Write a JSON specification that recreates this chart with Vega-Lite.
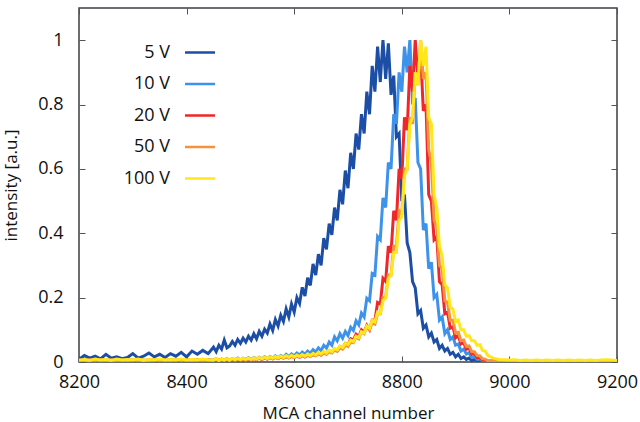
{
"$schema":"https://vega.github.io/schema/vega-lite/v6.json",
"width":538,"height":354,
"autosize":{"type":"none"},
"padding":{"left":79,"top":8,"right":23,"bottom":60},
"background":"white",
"config":{
 "view":{"stroke":"#3a3f44","strokeWidth":1.5},
 "font":"Open Sans",
 "axis":{"domain":false,"grid":false,"labelFlush":false,"labelOverlap":false,"tickColor":"#555","tickSize":-6,"tickWidth":1,"labelFont":"Open Sans","labelFontSize":18,"labelColor":"#111","titleFont":"Open Sans","titleFontSize":17,"titleFontWeight":"normal","titleColor":"#111"},
 "legend":{"orient":"none","legendX":104.5,"legendY":28,"symbolType":"stroke","symbolSize":900,"symbolStrokeWidth":2.5,"labelAlign":"right","labelOffset":-46.5,"labelFont":"Open Sans","labelFontSize":18,"labelColor":"#111","rowPadding":5.5,"padding":0}
},
"data":{"values":[
{"x":8200,"a":0.008,"b":0.004,"c":0.003,"d":0.005,"e":0.006},
{"x":8210,"a":0.02,"b":0.006,"c":0.005,"d":0.004,"e":0.008},
{"x":8220,"a":0.012,"b":0.003,"c":0.006,"d":0.007,"e":0.005},
{"x":8230,"a":0.018,"b":0.005,"c":0.004,"d":0.005,"e":0.009},
{"x":8240,"a":0.01,"b":0.004,"c":0.007,"d":0.006,"e":0.006},
{"x":8250,"a":0.024,"b":0.006,"c":0.004,"d":0.005,"e":0.008},
{"x":8260,"a":0.012,"b":0.003,"c":0.005,"d":0.007,"e":0.005},
{"x":8270,"a":0.016,"b":0.005,"c":0.006,"d":0.004,"e":0.009},
{"x":8280,"a":0.01,"b":0.004,"c":0.003,"d":0.006,"e":0.006},
{"x":8290,"a":0.014,"b":0.006,"c":0.006,"d":0.005,"e":0.008},
{"x":8300,"a":0.026,"b":0.004,"c":0.004,"d":0.007,"e":0.006},
{"x":8310,"a":0.012,"b":0.005,"c":0.007,"d":0.005,"e":0.009},
{"x":8320,"a":0.018,"b":0.003,"c":0.004,"d":0.006,"e":0.005},
{"x":8330,"a":0.028,"b":0.006,"c":0.006,"d":0.004,"e":0.008},
{"x":8340,"a":0.016,"b":0.004,"c":0.005,"d":0.007,"e":0.006},
{"x":8350,"a":0.024,"b":0.005,"c":0.007,"d":0.005,"e":0.009},
{"x":8360,"a":0.014,"b":0.004,"c":0.004,"d":0.006,"e":0.006},
{"x":8370,"a":0.026,"b":0.006,"c":0.006,"d":0.005,"e":0.008},
{"x":8380,"a":0.018,"b":0.004,"c":0.005,"d":0.007,"e":0.006},
{"x":8390,"a":0.03,"b":0.005,"c":0.004,"d":0.005,"e":0.009},
{"x":8400,"a":0.016,"b":0.004,"c":0.006,"d":0.006,"e":0.006},
{"x":8410,"a":0.034,"b":0.006,"c":0.005,"d":0.005,"e":0.008},
{"x":8420,"a":0.024,"b":0.004,"c":0.007,"d":0.007,"e":0.006},
{"x":8430,"a":0.036,"b":0.005,"c":0.004,"d":0.005,"e":0.009},
{"x":8440,"a":0.026,"b":0.006,"c":0.006,"d":0.006,"e":0.007},
{"x":8450,"a":0.046,"b":0.006,"c":0.004,"d":0.005,"e":0.006},
{"x":8455,"a":0.032,"b":0.01,"c":0.008,"d":0.009,"e":0.01},
{"x":8460,"a":0.052,"b":0.004,"c":0.005,"d":0.004,"e":0.005},
{"x":8465,"a":0.04,"b":0.009,"c":0.009,"d":0.008,"e":0.009},
{"x":8470,"a":0.068,"b":0.006,"c":0.004,"d":0.006,"e":0.006},
{"x":8475,"a":0.044,"b":0.011,"c":0.008,"d":0.009,"e":0.01},
{"x":8480,"a":0.05,"b":0.005,"c":0.006,"d":0.005,"e":0.006},
{"x":8485,"a":0.064,"b":0.01,"c":0.01,"d":0.01,"e":0.011},
{"x":8490,"a":0.052,"b":0.007,"c":0.005,"d":0.006,"e":0.007},
{"x":8495,"a":0.07,"b":0.012,"c":0.009,"d":0.009,"e":0.011},
{"x":8500,"a":0.058,"b":0.006,"c":0.006,"d":0.007,"e":0.007},
{"x":8505,"a":0.074,"b":0.011,"c":0.011,"d":0.01,"e":0.012},
{"x":8510,"a":0.062,"b":0.008,"c":0.007,"d":0.006,"e":0.008},
{"x":8515,"a":0.08,"b":0.013,"c":0.01,"d":0.011,"e":0.012},
{"x":8520,"a":0.068,"b":0.008,"c":0.006,"d":0.007,"e":0.008},
{"x":8525,"a":0.088,"b":0.014,"c":0.011,"d":0.012,"e":0.013},
{"x":8530,"a":0.072,"b":0.009,"c":0.008,"d":0.008,"e":0.009},
{"x":8535,"a":0.095,"b":0.015,"c":0.012,"d":0.012,"e":0.014},
{"x":8540,"a":0.08,"b":0.01,"c":0.008,"d":0.009,"e":0.01},
{"x":8545,"a":0.102,"b":0.016,"c":0.013,"d":0.013,"e":0.015},
{"x":8550,"a":0.09,"b":0.01,"c":0.009,"d":0.009,"e":0.011},
{"x":8555,"a":0.118,"b":0.017,"c":0.014,"d":0.014,"e":0.016},
{"x":8560,"a":0.098,"b":0.012,"c":0.01,"d":0.01,"e":0.012},
{"x":8565,"a":0.132,"b":0.019,"c":0.015,"d":0.015,"e":0.017},
{"x":8570,"a":0.112,"b":0.013,"c":0.011,"d":0.011,"e":0.013},
{"x":8575,"a":0.145,"b":0.02,"c":0.016,"d":0.016,"e":0.018},
{"x":8580,"a":0.126,"b":0.015,"c":0.012,"d":0.012,"e":0.014},
{"x":8585,"a":0.165,"b":0.024,"c":0.017,"d":0.017,"e":0.02},
{"x":8590,"a":0.14,"b":0.017,"c":0.013,"d":0.013,"e":0.015},
{"x":8595,"a":0.18,"b":0.025,"c":0.018,"d":0.018,"e":0.021},
{"x":8600,"a":0.155,"b":0.019,"c":0.014,"d":0.014,"e":0.016},
{"x":8605,"a":0.2,"b":0.028,"c":0.019,"d":0.019,"e":0.022},
{"x":8610,"a":0.182,"b":0.021,"c":0.015,"d":0.015,"e":0.017},
{"x":8615,"a":0.232,"b":0.031,"c":0.021,"d":0.02,"e":0.023},
{"x":8620,"a":0.205,"b":0.024,"c":0.016,"d":0.016,"e":0.018},
{"x":8625,"a":0.262,"b":0.034,"c":0.022,"d":0.021,"e":0.025},
{"x":8630,"a":0.238,"b":0.027,"c":0.018,"d":0.017,"e":0.02},
{"x":8635,"a":0.305,"b":0.038,"c":0.024,"d":0.023,"e":0.027},
{"x":8640,"a":0.27,"b":0.031,"c":0.02,"d":0.019,"e":0.022},
{"x":8645,"a":0.335,"b":0.044,"c":0.027,"d":0.025,"e":0.03},
{"x":8650,"a":0.3,"b":0.035,"c":0.022,"d":0.021,"e":0.025},
{"x":8655,"a":0.385,"b":0.052,"c":0.03,"d":0.028,"e":0.033},
{"x":8660,"a":0.35,"b":0.043,"c":0.025,"d":0.024,"e":0.028},
{"x":8665,"a":0.43,"b":0.062,"c":0.034,"d":0.032,"e":0.037},
{"x":8670,"a":0.395,"b":0.052,"c":0.03,"d":0.028,"e":0.032},
{"x":8675,"a":0.48,"b":0.078,"c":0.04,"d":0.037,"e":0.042},
{"x":8680,"a":0.44,"b":0.066,"c":0.036,"d":0.033,"e":0.038},
{"x":8685,"a":0.535,"b":0.088,"c":0.048,"d":0.043,"e":0.05},
{"x":8690,"a":0.49,"b":0.074,"c":0.044,"d":0.04,"e":0.045},
{"x":8695,"a":0.595,"b":0.095,"c":0.058,"d":0.052,"e":0.058},
{"x":8700,"a":0.54,"b":0.082,"c":0.054,"d":0.048,"e":0.054},
{"x":8705,"a":0.65,"b":0.108,"c":0.072,"d":0.063,"e":0.068},
{"x":8710,"a":0.6,"b":0.098,"c":0.068,"d":0.06,"e":0.064},
{"x":8715,"a":0.71,"b":0.128,"c":0.086,"d":0.078,"e":0.08},
{"x":8720,"a":0.66,"b":0.115,"c":0.078,"d":0.072,"e":0.076},
{"x":8725,"a":0.77,"b":0.152,"c":0.1,"d":0.094,"e":0.094},
{"x":8730,"a":0.71,"b":0.14,"c":0.092,"d":0.088,"e":0.09},
{"x":8735,"a":0.84,"b":0.198,"c":0.114,"d":0.11,"e":0.112},
{"x":8740,"a":0.77,"b":0.19,"c":0.1,"d":0.1,"e":0.105},
{"x":8745,"a":0.92,"b":0.275,"c":0.13,"d":0.122,"e":0.13},
{"x":8750,"a":0.84,"b":0.27,"c":0.128,"d":0.118,"e":0.125},
{"x":8755,"a":0.98,"b":0.39,"c":0.185,"d":0.15,"e":0.155},
{"x":8760,"a":0.87,"b":0.38,"c":0.18,"d":0.15,"e":0.15},
{"x":8765,"a":1.0,"b":0.51,"c":0.26,"d":0.2,"e":0.19},
{"x":8770,"a":0.88,"b":0.48,"c":0.25,"d":0.2,"e":0.2},
{"x":8775,"a":0.99,"b":0.62,"c":0.36,"d":0.27,"e":0.26},
{"x":8780,"a":0.83,"b":0.6,"c":0.34,"d":0.27,"e":0.27},
{"x":8785,"a":0.89,"b":0.77,"c":0.47,"d":0.36,"e":0.34},
{"x":8790,"a":0.7,"b":0.74,"c":0.44,"d":0.36,"e":0.34},
{"x":8795,"a":0.71,"b":0.9,"c":0.6,"d":0.47,"e":0.44},
{"x":8800,"a":0.5,"b":0.84,"c":0.57,"d":0.46,"e":0.45},
{"x":8805,"a":0.52,"b":0.98,"c":0.76,"d":0.6,"e":0.58},
{"x":8810,"a":0.37,"b":0.9,"c":0.72,"d":0.6,"e":0.6},
{"x":8815,"a":0.34,"b":1.0,"c":0.92,"d":0.76,"e":0.74},
{"x":8820,"a":0.25,"b":0.8,"c":0.84,"d":0.74,"e":0.76},
{"x":8825,"a":0.23,"b":0.82,"c":1.0,"d":0.9,"e":0.9},
{"x":8830,"a":0.15,"b":0.62,"c":0.88,"d":0.86,"e":0.86},
{"x":8835,"a":0.16,"b":0.6,"c":0.96,"d":1.0,"e":1.0},
{"x":8840,"a":0.105,"b":0.41,"c":0.78,"d":0.88,"e":0.92},
{"x":8845,"a":0.115,"b":0.43,"c":0.8,"d":0.9,"e":0.98},
{"x":8850,"a":0.078,"b":0.29,"c":0.52,"d":0.66,"e":0.76},
{"x":8855,"a":0.09,"b":0.31,"c":0.5,"d":0.62,"e":0.74},
{"x":8860,"a":0.062,"b":0.2,"c":0.38,"d":0.44,"e":0.52},
{"x":8865,"a":0.07,"b":0.21,"c":0.39,"d":0.42,"e":0.48},
{"x":8870,"a":0.042,"b":0.13,"c":0.25,"d":0.3,"e":0.36},
{"x":8875,"a":0.052,"b":0.14,"c":0.24,"d":0.29,"e":0.33},
{"x":8880,"a":0.034,"b":0.088,"c":0.15,"d":0.19,"e":0.24},
{"x":8885,"a":0.042,"b":0.1,"c":0.155,"d":0.185,"e":0.23},
{"x":8890,"a":0.024,"b":0.07,"c":0.105,"d":0.13,"e":0.17},
{"x":8895,"a":0.03,"b":0.078,"c":0.11,"d":0.13,"e":0.165},
{"x":8900,"a":0.016,"b":0.052,"c":0.075,"d":0.09,"e":0.125},
{"x":8905,"a":0.024,"b":0.056,"c":0.082,"d":0.092,"e":0.13},
{"x":8910,"a":0.011,"b":0.034,"c":0.056,"d":0.066,"e":0.1},
{"x":8915,"a":0.016,"b":0.04,"c":0.06,"d":0.068,"e":0.1},
{"x":8920,"a":0.008,"b":0.025,"c":0.04,"d":0.048,"e":0.08},
{"x":8925,"a":0.012,"b":0.029,"c":0.044,"d":0.05,"e":0.082},
{"x":8930,"a":0.004,"b":0.014,"c":0.025,"d":0.032,"e":0.066},
{"x":8935,"a":0.008,"b":0.017,"c":0.027,"d":0.032,"e":0.066},
{"x":8940,"a":0.003,"b":0.008,"c":0.014,"d":0.02,"e":0.052},
{"x":8945,"a":0.005,"b":0.009,"c":0.014,"d":0.019,"e":0.054},
{"x":8950,"a":0.002,"b":0.004,"c":0.006,"d":0.01,"e":0.036},
{"x":8955,"a":0.004,"b":0.005,"c":0.006,"d":0.009,"e":0.034},
{"x":8960,"a":0.001,"b":0.002,"c":0.002,"d":0.003,"e":0.02},
{"x":8970,"a":0.002,"b":0.002,"c":0.002,"d":0.004,"e":0.012},
{"x":8980,"a":0.003,"b":0.003,"c":0.003,"d":0.003,"e":0.008},
{"x":8990,"a":0.002,"b":0.002,"c":0.002,"d":0.004,"e":0.007},
{"x":9000,"a":0.003,"b":0.003,"c":0.003,"d":0.003,"e":0.006},
{"x":9010,"a":0.002,"b":0.002,"c":0.002,"d":0.004,"e":0.007},
{"x":9020,"a":0.003,"b":0.003,"c":0.003,"d":0.003,"e":0.005},
{"x":9030,"a":0.002,"b":0.002,"c":0.002,"d":0.004,"e":0.006},
{"x":9040,"a":0.003,"b":0.003,"c":0.003,"d":0.003,"e":0.005},
{"x":9050,"a":0.002,"b":0.002,"c":0.002,"d":0.004,"e":0.006},
{"x":9060,"a":0.003,"b":0.003,"c":0.003,"d":0.003,"e":0.005},
{"x":9070,"a":0.002,"b":0.002,"c":0.002,"d":0.004,"e":0.006},
{"x":9080,"a":0.003,"b":0.003,"c":0.003,"d":0.003,"e":0.005},
{"x":9090,"a":0.002,"b":0.002,"c":0.002,"d":0.004,"e":0.006},
{"x":9100,"a":0.003,"b":0.003,"c":0.003,"d":0.003,"e":0.005},
{"x":9110,"a":0.002,"b":0.002,"c":0.002,"d":0.004,"e":0.006},
{"x":9120,"a":0.003,"b":0.003,"c":0.003,"d":0.003,"e":0.005},
{"x":9130,"a":0.002,"b":0.002,"c":0.002,"d":0.004,"e":0.006},
{"x":9140,"a":0.003,"b":0.003,"c":0.003,"d":0.003,"e":0.005},
{"x":9150,"a":0.002,"b":0.002,"c":0.002,"d":0.004,"e":0.006},
{"x":9160,"a":0.003,"b":0.003,"c":0.003,"d":0.003,"e":0.005},
{"x":9170,"a":0.002,"b":0.002,"c":0.002,"d":0.004,"e":0.006},
{"x":9180,"a":0.003,"b":0.003,"c":0.003,"d":0.003,"e":0.007},
{"x":9190,"a":0.002,"b":0.002,"c":0.002,"d":0.004,"e":0.006},
{"x":9200,"a":0.003,"b":0.003,"c":0.003,"d":0.003,"e":0.005}
]},
"transform":[{"fold":["a","b","c","d","e"],"as":["k","v"]}],
"layer":[
 {"mark":{"type":"line","strokeWidth":3,"clip":true},
  "encoding":{
   "x":{"field":"x","type":"quantitative","scale":{"domain":[8200,9200],"nice":false,"zero":false,"padding":0},
        "axis":{"orient":"bottom","values":[8200,8400,8600,8800,9000,9200],"format":"d","title":"MCA channel number","labelPadding":17,"titlePadding":14}},
   "y":{"field":"v","type":"quantitative","scale":{"domain":[0,1.1],"nice":false,"zero":false,"padding":0},
        "axis":{"orient":"left","values":[0,0.2,0.4,0.6,0.8,1],"format":"~g","title":"intensity [a.u.]","labelPadding":22,"titlePadding":17}},
   "color":{"field":"k","type":"nominal","scale":{"domain":["a","b","c","d","e"],"range":["#1c4ea6","#3d92ea","#f0262a","#f5923e","#ffe71a"]},
        "legend":{"title":null,"labelExpr":"{'a':'5 V','b':'10 V','c':'20 V','d':'50 V','e':'100 V'}[datum.label]"}}
  }},
 {"mark":{"type":"line","opacity":0},
  "encoding":{
   "x":{"field":"x","type":"quantitative","scale":{"domain":[8200,9200],"nice":false,"zero":false,"padding":0},
        "axis":{"orient":"top","values":[8200,8400,8600,8800,9000,9200],"labels":false,"title":null}},
   "y":{"field":"v","type":"quantitative","scale":{"domain":[0,1.1],"nice":false,"zero":false,"padding":0},
        "axis":{"orient":"right","values":[0,0.2,0.4,0.6,0.8,1],"labels":false,"title":null}}
  }}
],
"resolve":{"axis":{"x":"independent","y":"independent"}}
}
